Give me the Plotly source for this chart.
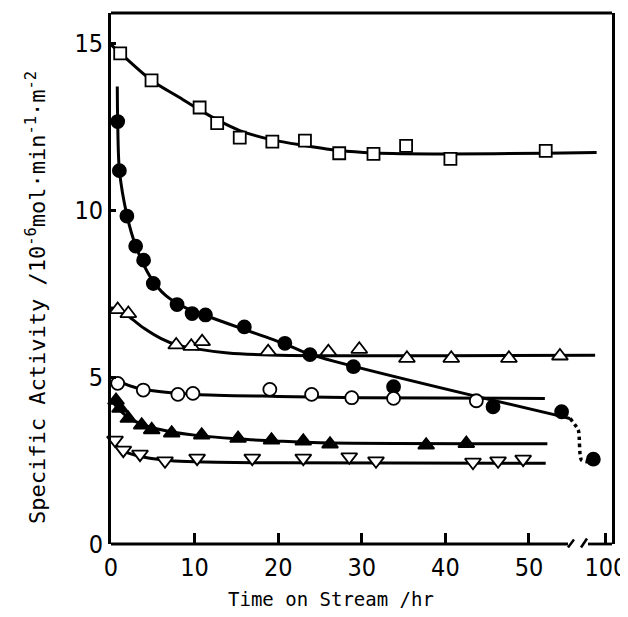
import plotly.graph_objects as go

# ---------------- data (time on stream in hr, specific activity in 1e-6 mol/min/m2) -------------
# open squares
sq_t = [1.1, 4.85, 10.6, 12.7, 15.4, 19.3, 23.2, 27.3, 31.4, 35.3, 40.6, 52.0]
sq_v = [14.69, 13.88, 13.07, 12.6, 12.17, 12.05, 12.08, 11.7, 11.68, 11.92, 11.53, 11.77]
sq_fit_t = [0.0, 1.1, 4.85, 8.0, 10.6, 13.0, 15.4, 19.3, 23.2, 27.3, 31.4, 40.0, 52.0, 96.3]
sq_fit_v = [14.95, 14.7, 13.88, 13.4, 13.0, 12.66, 12.38, 12.1, 11.93, 11.78, 11.71, 11.68, 11.7, 11.72]

# filled circles
fc_t = [0.8, 1.0, 1.9, 2.95, 3.9, 5.06, 7.9, 9.7, 11.3, 15.95, 20.8, 23.8, 29.0, 33.8, 45.7, 53.9, 95.0]
fc_v = [12.65, 11.18, 9.82, 8.92, 8.5, 7.8, 7.17, 6.9, 6.86, 6.5, 6.01, 5.67, 5.31, 4.71, 4.11, 3.96, 2.54]
fc_fit_t = [0.75, 0.8, 1.0, 1.9, 3.0, 4.7, 6.5, 9.0, 12.2, 16.0, 20.6, 23.8, 54.9]
fc_fit_v = [13.7, 12.65, 11.2, 9.85, 8.9, 8.0, 7.45, 7.06, 6.76, 6.42, 6.01, 5.68, 3.76]
# dotted connection across the axis break
fc_dot_t = [54.9, 55.9, 90.3, 96.3]
fc_dot_v = [3.76, 3.41, 2.51, 2.46]

# open triangles
ot_t = [0.8, 2.07, 7.8, 9.6, 10.9, 18.8, 26.0, 29.7, 35.4, 40.7, 47.6, 53.7]
ot_v = [7.02, 6.9, 5.96, 5.92, 6.06, 5.76, 5.76, 5.83, 5.56, 5.56, 5.56, 5.63]
ot_fit_t = [0.0, 0.8, 2.07, 4.0, 6.0, 8.0, 10.0, 14.0, 19.0, 25.0, 40.0, 95.7]
ot_fit_v = [7.08, 7.0, 6.82, 6.45, 6.15, 5.95, 5.85, 5.72, 5.66, 5.64, 5.64, 5.65]

# open circles
oc_t = [0.8, 3.86, 8.0, 9.8, 19.0, 24.0, 28.8, 33.8, 43.7]
oc_v = [4.81, 4.61, 4.48, 4.51, 4.63, 4.48, 4.38, 4.36, 4.29]
oc_fit_t = [0.0, 1.0, 3.0, 6.0, 10.0, 20.0, 30.0, 51.9]
oc_fit_v = [5.0, 4.86, 4.68, 4.56, 4.48, 4.42, 4.38, 4.36]

# filled triangles
ft_t = [0.6, 1.08, 2.07, 3.67, 4.87, 7.26, 10.85, 15.2, 19.2, 23.0, 26.2, 37.7, 42.5]
ft_v = [4.3, 4.06, 3.76, 3.56, 3.42, 3.32, 3.26, 3.16, 3.11, 3.08, 2.99, 2.96, 3.01]
ft_fit_t = [0.0, 1.0, 2.0, 4.0, 7.0, 10.0, 15.0, 20.0, 25.0, 52.2]
ft_fit_v = [4.32, 4.02, 3.8, 3.55, 3.37, 3.26, 3.15, 3.08, 3.03, 3.0]

# open inverted triangles
it_t = [0.48, 1.47, 3.47, 6.46, 10.3, 16.9, 23.0, 28.5, 31.7, 43.3, 46.3, 49.3]
it_v = [3.11, 2.81, 2.69, 2.49, 2.57, 2.57, 2.57, 2.61, 2.49, 2.45, 2.49, 2.54]
it_fit_t = [0.0, 1.0, 2.0, 4.0, 7.0, 10.0, 20.0, 52.0]
it_fit_v = [3.12, 2.86, 2.73, 2.6, 2.5, 2.46, 2.43, 2.42]

x_tick_hours = [0, 10, 20, 30, 40, 50, 100]
x_tick_text = ["0", "10", "20", "30", "40", "50", "100"]
y_tick_vals = [0, 5, 10, 15]
y_tick_text = ["0", "5", "10", "15"]

# ---------------- broken time axis -------------------------------------------------------------
POS_100 = 59.2      # axis position of the 100 hr tick
POST_SCALE = 0.3    # compression of the segment after the break


def xpos(t):
    return t if t < 80 else POS_100 + (t - 100) * POST_SCALE


def xs(ts):
    return [xpos(t) for t in ts]


fig = go.Figure()

LW = 3
for ft, fv in [(sq_fit_t, sq_fit_v), (fc_fit_t, fc_fit_v), (ot_fit_t, ot_fit_v),
               (oc_fit_t, oc_fit_v), (ft_fit_t, ft_fit_v), (it_fit_t, it_fit_v)]:
    fig.add_trace(go.Scatter(x=xs(ft), y=fv, mode="lines",
                             line=dict(color="black", width=LW, shape="spline", smoothing=0.8),
                             showlegend=False, hoverinfo="skip"))

fig.add_trace(go.Scatter(x=xs(fc_dot_t), y=fc_dot_v, mode="lines",
                         line=dict(color="black", width=3.5, dash="dot", shape="spline", smoothing=0.6),
                         showlegend=False, hoverinfo="skip"))


def markers(t, v, symbol, fill, size):
    fig.add_trace(go.Scatter(x=xs(t), y=v, mode="markers",
                             marker=dict(symbol=symbol, size=size, color=fill,
                                         line=dict(color="black", width=1.8)),
                             showlegend=False, cliponaxis=False))


markers(sq_t, sq_v, "square", "white", 12)
markers(fc_t, fc_v, "circle", "black", 13)
markers(ot_t, ot_v, "triangle-up", "white", 14)
markers(oc_t, oc_v, "circle", "white", 13)
markers(ft_t, ft_v, "triangle-up", "black", 14)
markers(it_t, it_v, "triangle-down", "white", 14)

XMAX = 59.93
YMAX = 15.9
TICK_FONT = dict(family="Liberation Sans Narrow, DejaVu Sans Condensed, Arial Narrow, sans-serif",
                 size=25, color="black")
TITLE_FONT = dict(family="DejaVu Sans Mono, Liberation Mono, monospace", size=19, color="black")

fig.update_xaxes(range=[0, XMAX], showgrid=False, zeroline=False, showline=False, automargin=False,
                 tickmode="array", tickvals=xs(x_tick_hours), ticktext=x_tick_text,
                 ticks="inside", ticklen=11, tickwidth=2.5, tickcolor="black",
                 tickfont=TICK_FONT, ticklabelstandoff=6, ticklabeloverflow="allow")
fig.update_yaxes(range=[0, YMAX], showgrid=False, zeroline=False, showline=True, automargin=False,
                 linecolor="black", linewidth=2.8, mirror=True,
                 tickmode="array", tickvals=y_tick_vals, ticktext=y_tick_text,
                 ticks="inside", ticklen=5, tickwidth=2.5, tickcolor="black",
                 tickfont=TICK_FONT, ticklabelstandoff=0)

# The page body adds an 8 px offset; the figure is sized so that the plot
# lands at the same screen position as the reference (plot box 111..612 x 13..544).
OFF = 8
W, H = 628 - OFF, 617 - OFF
L = 111 - OFF
T = 13 - OFF
R = W - (612 - OFF)
B = H - (544 - OFF)
pw = W - L - R
ph = H - T - B


def px_x(p):  # screen pixel -> paper x
    return (p - OFF - L) / pw


def px_y(p):  # screen pixel -> paper y
    return (H - B - (p - OFF)) / ph


shapes = []
line = dict(color="black", width=2.8)
# top border
shapes.append(dict(type="line", xref="paper", yref="paper", x0=0, x1=1, y0=1, y1=1, line=line))
# bottom border with a break
shapes.append(dict(type="line", xref="paper", yref="paper", x0=0, x1=px_x(568), y0=0, y1=0, line=line))
shapes.append(dict(type="line", xref="paper", yref="paper", x0=px_x(588), x1=1, y0=0, y1=0, line=line))
# break slashes
shapes.append(dict(type="line", xref="paper", yref="paper", x0=px_x(568), x1=px_x(574),
                   y0=px_y(547.5), y1=px_y(539.5), line=dict(color="black", width=2.5)))
shapes.append(dict(type="line", xref="paper", yref="paper", x0=px_x(581), x1=px_x(587),
                   y0=px_y(547.5), y1=px_y(538.5), line=dict(color="black", width=2.5)))

annotations = [
    dict(text="Specific Activity /10<sup>-6</sup>mol·min<sup>-1</sup>·m<sup>-2</sup>",
         xref="paper", yref="paper", x=px_x(36), y=px_y(298), xanchor="center", yanchor="middle",
         textangle=-90, showarrow=False, font=dict(TITLE_FONT, size=22)),
    dict(text="Time on Stream /hr", xref="paper", yref="paper", x=px_x(331), y=px_y(599),
         xanchor="center", yanchor="middle", showarrow=False, font=TITLE_FONT),
]

fig.update_layout(width=W, height=H, margin=dict(l=L, r=R, t=T, b=B, pad=0),
                  plot_bgcolor="white", paper_bgcolor="white",
                  shapes=shapes, annotations=annotations, showlegend=False)

fig.write_html("out.html")
